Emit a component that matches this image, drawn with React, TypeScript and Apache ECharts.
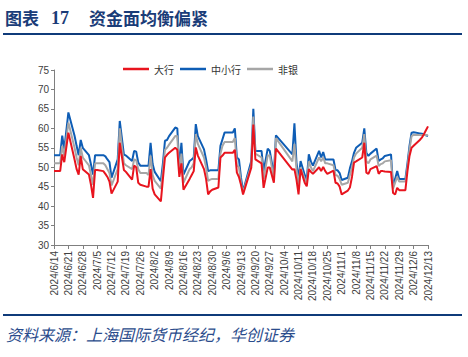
import React, { useEffect, useRef } from "react";
import * as echarts from "echarts";

const dates: string[] = [
  "2024-06-14","2024-06-17","2024-06-18","2024-06-19","2024-06-21","2024-06-24","2024-06-25","2024-06-26","2024-06-27","2024-06-28",
  "2024-07-01","2024-07-02","2024-07-03","2024-07-04","2024-07-05","2024-07-08","2024-07-09","2024-07-10","2024-07-11","2024-07-12",
  "2024-07-15","2024-07-16","2024-07-18","2024-07-19","2024-07-22","2024-07-23","2024-07-24","2024-07-25","2024-07-26","2024-07-29",
  "2024-07-30","2024-07-31","2024-08-01","2024-08-02","2024-08-05","2024-08-06","2024-08-07","2024-08-08","2024-08-09","2024-08-12",
  "2024-08-13","2024-08-14","2024-08-15","2024-08-16","2024-08-19","2024-08-20","2024-08-21","2024-08-22","2024-08-23","2024-08-26",
  "2024-08-27","2024-08-28","2024-08-29","2024-08-30","2024-09-02","2024-09-03","2024-09-04","2024-09-05","2024-09-06","2024-09-09",
  "2024-09-10","2024-09-11","2024-09-12","2024-09-13","2024-09-14","2024-09-18","2024-09-19","2024-09-20","2024-09-23","2024-09-24",
  "2024-09-26","2024-09-27","2024-09-29","2024-09-30","2024-10-08","2024-10-09","2024-10-10","2024-10-11","2024-10-12","2024-10-14",
  "2024-10-15","2024-10-16","2024-10-17","2024-10-18","2024-10-21","2024-10-22","2024-10-23","2024-10-24","2024-10-25","2024-10-28",
  "2024-10-29","2024-10-30","2024-10-31","2024-11-01","2024-11-04","2024-11-05","2024-11-06","2024-11-07","2024-11-08","2024-11-11",
  "2024-11-12","2024-11-13","2024-11-14","2024-11-15","2024-11-18","2024-11-19","2024-11-20","2024-11-21","2024-11-22","2024-11-25",
  "2024-11-26","2024-11-27","2024-11-28","2024-11-29","2024-12-02","2024-12-03","2024-12-04","2024-12-05","2024-12-06","2024-12-09",
  "2024-12-10","2024-12-11","2024-12-12","2024-12-13"
];

const bigBanks: number[] = [
  49,49,53.3,51.3,58.9,52,49.5,48.1,52.9,49.5,
  48.1,45.5,42.1,49.3,49.3,49,48.3,47.5,46.3,43.2,
  46.3,56.3,49.3,48.8,46.8,50.4,50,46,45.5,45,
  45,49.5,44.5,43,41.2,47,52.5,53.2,53.7,55,
  54.5,47.5,51,44.2,47,48,49,55.1,53,49.5,
  47,43,43.8,44.2,44.8,52.5,53,53.7,53.7,53.7,
  54.5,48.6,47.5,45.5,43,49.9,61,52,51,44.7,
  49.9,49.9,46,54.8,49.4,49.5,46.8,43,49.5,46,
  45.1,49.5,48.8,48.3,50,49,50.1,49,48.3,49.1,
  46,45.8,45,43,44,44.8,47.5,51.2,51.5,52.5,
  56.3,48.6,48.3,49.5,50.3,48.3,49,49,48.9,48.8,
  43.4,43,44.7,44.1,44.1,49,52.9,55,55.5,57,
  57.6,58.5,59.5,60.5
];

const smallBanks: number[] = [
  53.1,53.1,58.1,54.6,64.1,58.1,55.5,53.1,57,55,
  53.1,50.7,48.1,53.1,53.1,53.1,52.8,52,51.3,47.3,
  52,61.9,53.3,53,51.6,54.2,54,51.2,50.4,50.4,
  50.4,56.3,50.8,48.8,46.4,51,56.8,57,58,60.2,
  60,50,56.3,48.1,51.6,52,52.5,61.1,58,54.6,
  52,49,49.2,49.2,49.2,55.5,57.2,58.9,58.9,58.9,
  60,52.5,52,47.3,43.8,51.6,65,54.2,54.2,49,
  54.8,54.2,48.1,58.2,53.3,61.3,51.2,47,51.6,48,
  46.8,53.3,51.5,50.4,54.2,52.5,53.9,52,52,52,
  49.3,49.2,48.5,46.7,47.3,49.7,51.5,53.7,55,56.3,
  60,53.7,52.9,53.5,54.8,51.6,52,52.3,52.9,53.3,
  45.1,47,49,47,47,51,55.5,58.9,59,58.7,
  58.6,58.4,58.2,58
];

const nonBanks: number[] = [
  51,51,55.5,53,61.5,55,52.5,50.5,55,52.5,
  50.5,48,45.5,51,51,51,50.5,49.5,48.5,45.3,
  49.5,60,51,50.5,49.5,52,51.8,49.5,48.5,48.5,
  48,53,48,46.5,44.5,49,54.5,55,55.8,58,
  58,48.5,53.5,46,49.5,50,51,58.5,56,52.5,
  50,46.5,46.8,47,47,53.5,55.5,56.5,56.5,56.5,
  57.5,50.5,50,46,43.5,50.5,63,53.5,52.5,47,
  53,53,47,57.5,51.5,56,49.5,45.5,50,47,
  46,51.5,50,49,52.5,51.5,52.5,51,51,50.5,
  48,47.8,47,45.5,46,48,50,52.5,53.5,55,
  58.5,51.5,51,52,53,50.3,50.8,51,51.5,51.8,
  44.5,46,47.5,46.3,46.3,50,54.5,58,58.3,58.3,
  58.3,58.3,58.3,58.2
];

const seriesNames: string[] = ["大行", "中小行", "非银"];
const startDate = Date.UTC(2024, 5, 14);
const DAY = 86400000;

function dayOffset(s: string): number {
  const [y, m, d] = s.split("-").map(Number);
  return Math.round((Date.UTC(y, m - 1, d) - startDate) / DAY);
}

function fmtTick(v: number): string {
  const dt = new Date(startDate + v * DAY);
  return `${dt.getUTCFullYear()}/${dt.getUTCMonth() + 1}/${dt.getUTCDate()}`;
}

export default function App() {
  const ref = useRef<HTMLDivElement>(null);
  useEffect(() => {
    if (!ref.current) return;
    const chart = echarts.init(ref.current, undefined, { renderer: "svg" });
    const xs = dates.map(dayOffset);
    const pair = (arr: number[]) => arr.map((v, i) => [xs[i], v]);
    const navy = "#1a3c78";
    chart.setOption({
      animation: false,
      backgroundColor: "#ffffff",
      grid: { left: 54, right: 40, top: 70, bottom: 112, containLabel: false },
      legend: {
        data: seriesNames,
        left: 118,
        top: 59,
        icon: "rect",
        itemWidth: 26,
        itemHeight: 2.5,
        itemGap: 6,
        textStyle: { fontSize: 10, color: "#333", fontFamily: "'Noto Sans CJK SC'" },
      },
      xAxis: {
        type: "value",
        min: 0,
        max: 182,
        interval: 7,
        axisLine: { show: true, lineStyle: { color: "#7f7f7f", width: 1 } },
        axisTick: { show: true, length: 4, lineStyle: { color: "#7f7f7f" } },
        splitLine: { show: false },
        axisLabel: {
          rotate: 90,
          fontSize: 10,
          color: "#404040",
          fontFamily: "'Liberation Sans', Arial",
          margin: 6,
          showMaxLabel: true,
          showMinLabel: true,
          formatter: (v: number) => fmtTick(v),
        },
      },
      yAxis: {
        type: "value",
        min: 30,
        max: 75,
        interval: 5,
        axisLine: { show: true, lineStyle: { color: "#7f7f7f", width: 1 } },
        axisTick: { show: true, length: 3, lineStyle: { color: "#7f7f7f" } },
        splitLine: { show: false },
        axisLabel: { fontSize: 10, color: "#404040", fontFamily: "'Liberation Sans', Arial", margin: 5 },
      },
      series: [
        {
          name: seriesNames[1],
          type: "line",
          data: pair(smallBanks),
          symbol: "none",
          lineStyle: { width: 2, color: "#0e5db5" },
          itemStyle: { color: "#0e5db5" },
          z: 2,
        },
        {
          name: seriesNames[2],
          type: "line",
          data: pair(nonBanks),
          symbol: "none",
          lineStyle: { width: 2, color: "#a6a6a6" },
          itemStyle: { color: "#a6a6a6" },
          z: 3,
        },
        {
          name: seriesNames[0],
          type: "line",
          data: pair(bigBanks),
          symbol: "none",
          lineStyle: { width: 2, color: "#e8141e" },
          itemStyle: { color: "#e8141e" },
          z: 4,
        },
      ],
      graphic: [
        {
          type: "text",
          left: 5,
          top: 9,
          style: { text: "图表", fontSize: 17, fontWeight: "bold", fill: navy, fontFamily: "'Noto Sans CJK SC'" },
        },
        {
          type: "text",
          left: 51,
          top: 9,
          style: { text: "17", fontSize: 18, fontWeight: "bold", fill: navy, fontFamily: "'Liberation Serif', serif" },
        },
        {
          type: "text",
          left: 89,
          top: 9,
          style: { text: "资金面均衡偏紧", fontSize: 17, fontWeight: "bold", fill: navy, fontFamily: "'Noto Sans CJK SC'" },
        },
        {
          type: "rect",
          shape: { x: 3, y: 33, width: 459, height: 2 },
          style: { fill: "#0f3b7a" },
        },
        {
          type: "rect",
          shape: { x: 3, y: 314, width: 459, height: 2 },
          style: { fill: "#0f3b7a" },
        },
        {
          type: "text",
          left: 6,
          top: 326,
          style: {
            text: "资料来源：上海国际货币经纪，华创证券",
            fontSize: 16,
            fontStyle: "italic",
            fill: "#2b4c8c",
            fontFamily: "'Noto Sans CJK SC'",
          },
        },
      ],
    });
    return () => chart.dispose();
  }, []);
  return (
    <div
      ref={ref}
      style={{ position: "fixed", left: 0, top: 0, width: 468, height: 357, background: "#fff" }}
    />
  );
}
